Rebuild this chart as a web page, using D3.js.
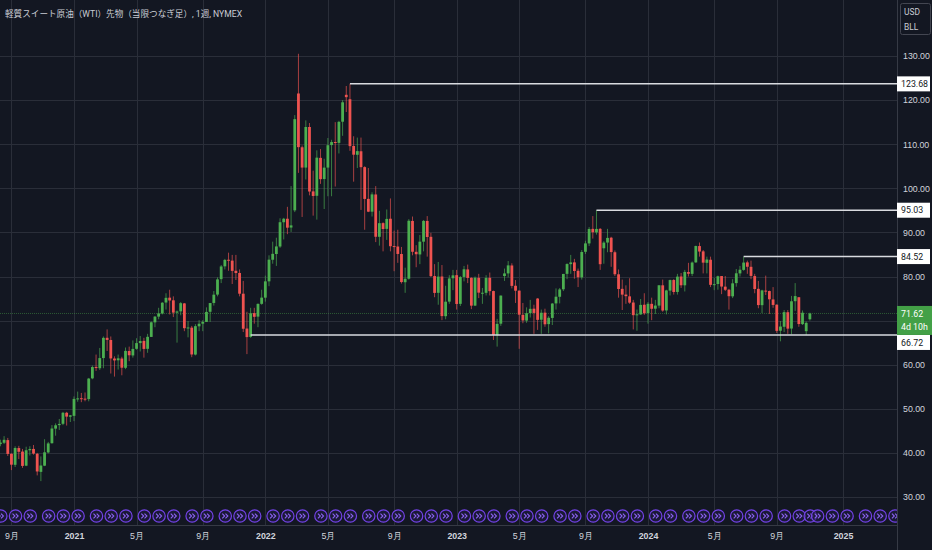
<!DOCTYPE html>
<html lang="ja">
<head>
<meta charset="UTF-8">
<title>WTI 1週</title>
<script src="https://d3js.org/d3.v7.min.js"></script>
<style>
  html, body { margin: 0; padding: 0; background: #131722; }
  svg { display: block; font-family: Roboto, "Noto Sans CJK JP", sans-serif; }
  .grid line { stroke: #2a2e39; stroke-width: 1; }
  .axis text { fill: #d1d4dc; font-size: 8.8px; }
  .axis path, .axis line { display: none; }
</style>
</head>
<body>
<svg id="chart" width="932" height="550"></svg>
<script>
// 週足 (月曜日付) 2020-08-10 から
const firstWeek = new Date(2020, 7, 10);

const opens = [
  41.3, 42.0, 42.3, 42.9, 39.8, 37.3, 41.1, 40.3, 37.1, 40.6, 40.9, 39.8, 35.7, 37.1, 40.1, 42.2, 45.5, 46.3, 46.6, 49.1, 48.2,
  48.4, 52.2, 52.4, 52.3, 52.2, 56.9, 59.5, 59.2, 61.5, 66.1, 65.6, 61.4, 61.0, 61.4, 59.3, 63.1, 62.1, 63.6, 64.9, 65.4, 63.6,
  66.3, 69.6, 70.9, 71.6, 74.1, 75.2, 74.6, 71.8, 72.1, 73.9, 68.3, 68.4, 62.3, 68.7, 69.3, 69.7, 72.0, 74.0, 75.9, 79.4, 82.3,
  83.8, 83.6, 81.3, 80.8, 76.1, 68.2, 66.3, 71.7, 70.9, 73.8,
  75.2, 78.9, 83.8, 85.1, 86.8, 92.3, 93.1, 91.1, 95.0, 121.5, 109.3, 104.7, 113.9, 99.3, 98.3, 106.9, 102.1, 104.7, 109.8,
  110.5, 110.3, 115.1, 121.2, 120.2, 109.6, 107.6, 108.4, 104.8, 97.6, 94.7, 98.6, 89.0, 92.1, 90.8, 93.1, 86.9, 86.8, 85.1,
  78.7, 79.5, 92.6, 85.6, 85.0, 87.9, 92.6, 89.0, 80.1, 76.3, 80.0, 71.0, 74.3, 79.6,
  80.3, 73.8, 79.9, 81.6, 79.7, 73.4, 79.7, 76.3, 76.3, 79.7, 76.7, 66.7, 69.3, 80.1, 80.7, 82.5, 77.9, 76.8, 71.3, 70.0, 71.7,
  72.7, 75.0, 70.2, 71.8, 69.2, 70.6, 73.9, 75.4, 77.1, 80.6, 82.8, 83.2, 81.3, 79.8, 85.6, 87.5, 90.8, 90.0, 90.8, 86.4, 87.7,
  88.8, 85.5, 80.5, 77.2, 75.9, 75.5, 74.1, 71.2, 71.4, 73.6,
  71.7, 73.8, 72.7, 73.4, 78.0, 72.3, 76.8, 79.2, 76.5, 80.0, 78.0, 81.0, 80.6, 83.2, 86.9, 85.7, 83.1, 83.8, 78.1, 78.3, 80.1,
  77.7, 77.0, 75.5, 78.5, 80.7, 81.5, 83.2, 82.2, 80.1, 77.2, 73.5, 76.8, 76.7, 74.8, 73.6, 67.7, 68.6, 71.9, 68.2, 74.4, 75.3,
  69.2, 67.6, 70.3
];
const highs = [
  43.0, 43.0, 43.8, 43.4, 39.9, 41.5, 41.6, 40.9, 41.4, 41.5, 41.8, 40.0, 39.2, 43.1, 42.5, 46.3, 46.7, 47.7, 49.3, 49.3, 48.6,
  52.8, 53.9, 53.6, 53.7, 57.0, 59.8, 62.3, 63.8, 66.4, 68.0, 66.4, 61.9, 62.3, 61.8, 63.9, 64.1, 65.5, 66.0, 66.5, 66.1, 67.0,
  69.8, 71.0, 72.9, 74.2, 76.2, 77.0, 75.5, 72.3, 74.2, 74.0, 69.9, 68.8, 69.2, 70.1, 70.1, 73.0, 74.0, 76.7, 79.8, 82.6, 84.0,
  85.4, 84.9, 84.9, 81.6, 79.0, 72.0, 72.9, 72.9, 73.9, 77.0,
  80.2, 84.8, 87.9, 88.8, 93.2, 93.3, 95.8, 100.5, 116.6, 130.5, 109.7, 115.4, 114.8, 104.0, 108.6, 108.9, 106.7, 111.4, 111.0,
  115.0, 115.3, 120.0, 123.2, 123.68, 111.8, 111.5, 111.5, 105.0, 104.6, 99.1, 100.5, 94.9, 92.3, 95.2, 97.7, 90.4, 90.6, 86.7,
  82.0, 93.0, 93.6, 87.1, 89.4, 92.8, 93.7, 89.9, 82.8, 83.3, 82.6, 77.9, 80.3, 81.5,
  81.5, 80.1, 82.4, 82.7, 79.8, 80.0, 80.6, 77.4, 80.3, 80.9, 76.8, 70.4, 75.7, 81.8, 83.5, 83.0, 79.2, 76.8, 74.0, 73.0, 74.7,
  73.6, 75.1, 72.5, 72.7, 71.0, 74.0, 77.3, 77.4, 80.6, 83.0, 84.9, 84.0, 81.8, 86.0, 88.1, 91.2, 93.7, 95.03, 91.0, 88.0, 90.8,
  89.0, 85.9, 81.6, 79.3, 78.0, 79.6, 74.7, 72.5, 74.9, 76.2,
  74.2, 75.2, 74.7, 78.0, 79.3, 77.0, 79.3, 79.4, 80.6, 80.8, 81.5, 83.1, 83.4, 87.0, 87.7, 86.0, 84.5, 84.5, 79.7, 80.2, 80.1,
  80.1, 77.2, 79.4, 81.7, 82.4, 84.52, 83.6, 83.6, 80.6, 79.0, 77.0, 80.2, 76.8, 77.6, 73.7, 69.9, 72.4, 72.4, 75.6, 78.5, 75.3,
  72.3, 69.8, 71.8
];
const lows = [
  41.0, 41.5, 42.0, 39.3, 36.1, 36.8, 38.6, 36.6, 37.0, 39.4, 39.6, 34.9, 33.6, 37.0, 39.9, 42.1, 43.9, 45.2, 46.3, 46.2, 47.0,
  47.2, 51.6, 51.5, 51.7, 51.7, 56.7, 58.6, 58.8, 59.2, 63.1, 58.0, 57.3, 58.9, 57.6, 59.0, 60.8, 61.6, 63.4, 63.0, 61.6, 62.7,
  66.3, 68.5, 70.3, 71.4, 72.5, 71.4, 70.8, 65.0, 71.2, 67.6, 66.2, 61.7, 62.1, 67.6, 67.6, 69.7, 69.7, 73.4, 75.5, 78.5, 81.6,
  81.3, 78.3, 79.2, 75.5, 67.4, 62.4, 66.1, 69.3, 68.5, 73.6,
  74.3, 77.8, 82.9, 82.4, 86.5, 88.4, 89.6, 90.1, 94.6, 103.5, 93.5, 102.0, 98.4, 93.8, 92.9, 101.0, 95.3, 98.2, 98.2,
  100.4, 107.9, 111.9, 117.3, 108.5, 101.5, 104.6, 95.1, 90.6, 94.6, 93.6, 87.8, 87.0, 85.7, 88.3, 85.7, 81.2, 83.1, 78.4,
  76.3, 79.3, 84.8, 82.1, 82.8, 85.7, 84.5, 79.9, 75.3, 73.6, 70.1, 70.3, 73.8, 76.9,
  72.5, 73.3, 78.9, 78.5, 72.6, 73.3, 75.1, 73.8, 75.7, 75.7, 65.6, 64.1, 68.8, 79.0, 79.8, 77.3, 74.0, 63.6, 69.4, 69.5, 70.7,
  67.0, 67.9, 67.0, 68.6, 67.1, 69.0, 72.5, 73.9, 76.7, 79.4, 80.6, 79.5, 77.6, 79.3, 85.1, 86.9, 88.6, 89.5, 81.5, 82.9, 85.5,
  82.2, 80.1, 75.2, 72.4, 73.8, 73.8, 68.0, 67.7, 71.3, 71.3,
  69.3, 70.1, 71.5, 72.8, 72.0, 71.4, 75.7, 75.9, 75.9, 77.4, 76.6, 80.0, 80.1, 83.1, 84.5, 80.7, 80.7, 77.6, 76.9, 77.0, 76.0,
  76.7, 72.5, 75.1, 77.7, 80.0, 81.3, 80.6, 79.4, 76.2, 72.8, 71.7, 75.8, 71.5, 72.9, 67.2, 65.3, 67.4, 67.0, 66.9, 72.2, 68.6,
  69.0, 66.72, 70.0
];
const closes = [
  42.01, 42.34, 42.97, 39.77, 37.33, 41.11, 40.25, 37.05, 40.60, 40.88, 39.85, 35.79, 37.14, 40.13, 42.15, 45.53, 46.26, 46.57, 49.10, 48.23, 48.52,
  52.24, 52.36, 52.27, 52.20, 56.85, 59.47, 59.24, 61.50, 66.09, 65.61, 61.42, 60.97, 61.45, 59.32, 63.13, 62.14, 63.58, 64.90, 65.37, 63.58, 66.32,
  69.62, 70.91, 71.64, 74.05, 75.16, 74.56, 71.81, 72.07, 73.95, 68.28, 68.44, 62.32, 68.74, 69.29, 69.72, 71.97, 73.98, 75.88, 79.35, 82.28, 83.76,
  83.57, 81.27, 80.79, 76.10, 68.15, 66.26, 71.67, 70.86, 73.79, 75.21,
  78.90, 83.82, 85.14, 86.82, 92.31, 93.10, 91.07, 91.59, 115.68, 109.33, 104.70, 113.90, 99.27, 98.26, 106.95, 102.07, 104.69, 109.77, 110.49,
  110.28, 115.07, 119.50, 120.67, 109.56, 107.62, 108.43, 104.79, 97.59, 94.70, 98.62, 89.01, 92.09, 90.77, 93.06, 86.87, 86.79, 85.11, 78.74,
  79.49, 92.64, 85.61, 85.05, 87.90, 92.61, 88.96, 80.08, 76.28, 79.98, 71.02, 74.29, 79.56, 80.26,
  73.77, 79.86, 81.64, 79.68, 73.39, 79.72, 76.34, 76.32, 79.68, 76.68, 66.74, 69.26, 75.67, 80.70, 82.52, 77.87, 76.78, 71.34, 70.04, 71.69, 72.67,
  71.74, 70.17, 71.78, 69.16, 70.64, 73.86, 75.42, 77.07, 80.58, 82.82, 83.19, 81.25, 79.83, 85.55, 87.51, 90.77, 90.03, 90.79, 82.79, 87.69, 88.75,
  85.54, 80.51, 77.17, 75.89, 75.54, 74.07, 71.23, 71.43, 73.56, 71.65,
  73.81, 72.68, 73.41, 78.01, 72.28, 76.84, 79.19, 76.49, 79.97, 78.01, 81.04, 80.63, 83.17, 86.91, 85.66, 83.14, 83.85, 78.11, 78.26, 80.06, 77.72,
  76.99, 75.53, 78.45, 80.73, 81.54, 83.16, 82.21, 80.13, 77.16, 73.52, 76.84, 76.65, 74.83, 73.55, 67.67, 68.65, 71.92, 68.18, 74.38, 75.56, 69.22,
  71.78, 69.49, 71.62
];

// 水平線 (値, 開始週インデックス)
const levelValues = [123.68, 95.03, 84.52, 66.72];
const levelStart = [96, 163, 203, 69];

// 限月ロールマーカー (週インデックス)
const rollWeeks = [1, 5, 9, 14, 18, 22, 27, 31, 35, 40, 44, 48, 53, 57, 62, 66, 70, 75, 79, 83, 88, 92, 96, 101, 105, 109,
  114, 118, 122, 127, 131, 135, 140, 144, 148, 153, 157, 162, 166, 170, 174, 179, 183, 188, 192, 196, 201, 205, 209, 214,
  218, 221, 223, 227, 231, 236, 240, 244];

const priceTicks = [30, 40, 50, 60, 70, 80, 90, 100, 110, 120, 130];
// 70.00 は現在値ラベルに隠れて表示されない
const priceLabels = [30, 40, 50, 60, 80, 90, 100, 110, 120, 130];
const timeTickDates = ["2020-09-07", "2021-01-04", "2021-05-03", "2021-09-06", "2022-01-03", "2022-05-02", "2022-09-05",
  "2023-01-02", "2023-05-01", "2023-09-04", "2024-01-01", "2024-05-06", "2024-09-02", "2025-01-06"];
const timeTickLabels = ["9月", "2021", "5月", "9月", "2022", "5月", "9月", "2023", "5月", "9月", "2024", "5月", "9月", "2025"];

const title = "軽質スイート原油（WTI）先物（当限つなぎ足）, 1週, NYMEX";
const lastPrice = 71.62;
const countdown = "4d 10h";

// ---------------------------------------------------------------
const W = 932, H = 550, plotW = 897, plotH = 525;
const upColor = "#4caf50", downColor = "#ef5350";

const svg = d3.select("#chart");
const parse = d3.timeParse("%Y-%m-%d");
const weekDate = i => d3.timeDay.offset(firstWeek, 7 * i);

const candles = opens.map((o, i) => ({
  date: weekDate(i), o: o, h: highs[i], l: lows[i], c: closes[i]
}));

const x = d3.scaleTime()
  .domain([parse("2021-01-04"), parse("2025-01-06")])
  .range([74, 843]);
const y = d3.scaleLinear().domain([30, 130]).range([497, 56]);

svg.append("rect").attr("width", W).attr("height", H).attr("fill", "#131722");

svg.append("clipPath").attr("id", "plot")
  .append("rect").attr("width", plotW).attr("height", plotH);

// グリッド
const grid = svg.append("g").attr("class", "grid").attr("clip-path", "url(#plot)");
grid.selectAll(".h").data(priceTicks).join("line")
  .attr("x1", 0).attr("x2", plotW)
  .attr("y1", d => Math.round(y(d)) + 0.5).attr("y2", d => Math.round(y(d)) + 0.5);
grid.selectAll(".v").data(timeTickDates).join("line")
  .attr("y1", 0).attr("y2", plotH)
  .attr("x1", d => Math.round(x(parse(d))) + 0.5).attr("x2", d => Math.round(x(parse(d))) + 0.5);

// タイトル
svg.append("text")
  .attr("x", 5).attr("y", 16.5)
  .attr("fill", "#c9ccd4")
  .attr("font-size", "8.6px")
  .text(title);

const plot = svg.append("g").attr("clip-path", "url(#plot)");

// 現在値ライン
plot.append("line")
  .attr("x1", 0).attr("x2", plotW)
  .attr("y1", y(lastPrice)).attr("y2", y(lastPrice))
  .attr("stroke", "#3f8f44").attr("stroke-opacity", 0.55)
  .attr("stroke-dasharray", "1,1");

// ローソク足
const bodyW = 2.8;
const cg = plot.selectAll(".candle").data(candles).join("g")
  .attr("fill", d => d.c >= d.o ? upColor : downColor)
  .attr("stroke", d => d.c >= d.o ? upColor : downColor);
cg.append("line")
  .attr("x1", d => x(d.date)).attr("x2", d => x(d.date))
  .attr("y1", d => y(d.h)).attr("y2", d => y(d.l))
  .attr("stroke-width", 0.9).attr("stroke-opacity", 0.75);
cg.append("rect")
  .attr("x", d => x(d.date) - bodyW / 2)
  .attr("width", bodyW)
  .attr("y", d => y(Math.max(d.o, d.c)))
  .attr("height", d => Math.max(1, Math.abs(y(d.o) - y(d.c))))
  .attr("stroke", "none");

// 水平線
plot.selectAll(".level").data(levelValues).join("line")
  .attr("x1", (d, i) => x(weekDate(levelStart[i])))
  .attr("x2", plotW)
  .attr("y1", d => y(d)).attr("y2", d => y(d))
  .attr("stroke", "#d9dbe0").attr("stroke-width", 1.5);

// ロールマーカー
const rg = svg.append("g").attr("clip-path", "url(#plot)")
  .selectAll(".roll").data(rollWeeks).join("g")
  .attr("transform", d => `translate(${x(weekDate(d)) + 0.4},516)`);
rg.append("circle").attr("r", 6.2)
  .attr("fill", "#1f1a45").attr("fill-opacity", 0.6)
  .attr("stroke", "#7343e6").attr("stroke-width", 1.2);
rg.append("path")
  .attr("d", "M-3,-2.4 L-0.6,0 L-3,2.4 M0.2,-2.4 L2.6,0 L0.2,2.4")
  .attr("fill", "none").attr("stroke", "#8b63f0").attr("stroke-width", 1.1);

// 枠線
svg.append("line").attr("x1", plotW + 0.5).attr("x2", plotW + 0.5).attr("y1", 0).attr("y2", H)
  .attr("stroke", "#363a45");
svg.append("line").attr("x1", 0).attr("x2", plotW).attr("y1", plotH + 0.5).attr("y2", plotH + 0.5)
  .attr("stroke", "#363a45");

// 価格軸
svg.append("g").attr("class", "axis")
  .attr("transform", `translate(${plotW},0)`)
  .call(d3.axisRight(y).tickValues(priceLabels).tickFormat(d3.format(".2f")).tickSize(0).tickPadding(6));

// 時間軸
svg.append("g").attr("class", "axis")
  .attr("transform", `translate(0,${plotH})`)
  .call(d3.axisBottom(x).tickValues(timeTickDates.map(parse))
    .tickFormat((d, i) => timeTickLabels[i]).tickSize(0).tickPadding(8))
  .selectAll("text")
  .attr("font-weight", (d, i) => /^\d{4}$/.test(timeTickLabels[i]) ? "bold" : "normal")
  .attr("fill", (d, i) => /^\d{4}$/.test(timeTickLabels[i]) ? "#e6e8ec" : "#c9ccd4");

// 通貨ボックス
svg.append("rect").attr("x", 900.5).attr("y", 3.5).attr("width", 30).attr("height", 31).attr("rx", 2)
  .attr("fill", "#131722").attr("stroke", "#434651");
svg.append("text").attr("x", 904).attr("y", 15).attr("fill", "#c9ccd4").attr("font-size", "8.4px").text("USD");
svg.append("text").attr("x", 904).attr("y", 30).attr("fill", "#c9ccd4").attr("font-size", "8.4px").text("BLL");

// 水平線ラベル
const labelY = levelValues.map(v => y(v));
labelY[3] = Math.max(labelY[3], y(lastPrice) + 29);
const lg = svg.selectAll(".lvlLabel").data(levelValues).join("g")
  .attr("transform", (d, i) => `translate(${plotW},${labelY[i]})`);
lg.append("rect").attr("x", 0).attr("y", -7.5).attr("width", 33).attr("height", 15)
  .attr("fill", "#ffffff");
lg.append("text").attr("x", 4).attr("dy", "0.35em").attr("fill", "#131722")
  .attr("font-size", "8.8px").text(d => d.toFixed(2));

// 現在値ラベル
const cur = svg.append("g").attr("transform", `translate(${plotW},${y(lastPrice)})`);
cur.append("rect").attr("x", 0).attr("y", -7.5).attr("width", 35).attr("height", 29).attr("fill", "#43a047");
cur.append("text").attr("x", 4).attr("dy", "0.35em").attr("fill", "#ffffff")
  .attr("font-size", "8.8px").text(lastPrice.toFixed(2));
cur.append("text").attr("x", 4).attr("y", 13.5).attr("dy", "0.35em").attr("fill", "#ffffff")
  .attr("font-size", "8.8px").text(countdown);
</script>
</body>
</html>
